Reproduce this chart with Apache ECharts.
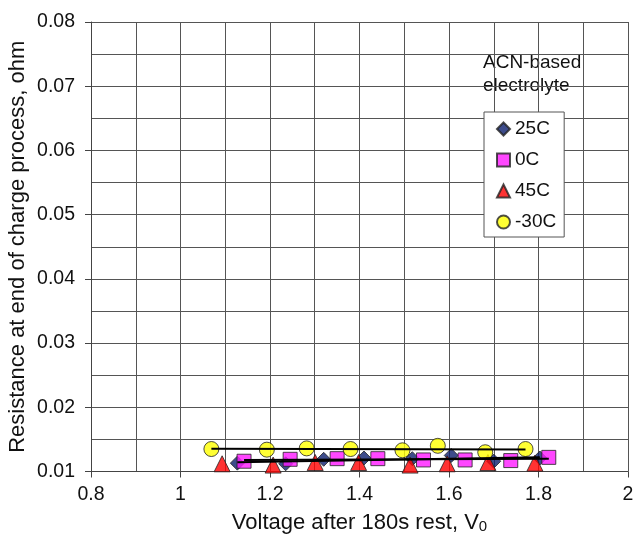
<!DOCTYPE html>
<html>
<head>
<meta charset="utf-8">
<script src="https://cdn.jsdelivr.net/npm/echarts@6/dist/echarts.min.js"></script>
<style>
  html, body { margin: 0; padding: 0; background: #fff; }
  #chart { width: 633px; height: 539px; }
</style>
</head>
<body>
<div id="chart"></div>
<script>
// Resistance at end of charge vs. rest voltage, ACN-based electrolyte
const seriesNames = ['25C', '0C', '45C', '-30C'];

const v25 = [1.127, 1.235, 1.320, 1.410, 1.518, 1.605, 1.700, 1.803];
const r25 = [0.0113, 0.0112, 0.0119, 0.0121, 0.0120, 0.0125, 0.0116, 0.0121];

const v0 = [1.142, 1.245, 1.350, 1.441, 1.543, 1.636, 1.738, 1.823];
const r0 = [0.0116, 0.0119, 0.0120, 0.0120, 0.0118, 0.0118, 0.0117, 0.0122];

const v45 = [1.093, 1.207, 1.301, 1.398, 1.513, 1.596, 1.687, 1.792];
const r45 = [0.0112, 0.0110, 0.0114, 0.0114, 0.0110, 0.0112, 0.0114, 0.0113];

const vm30 = [1.069, 1.193, 1.282, 1.380, 1.496, 1.575, 1.681, 1.771];
const rm30 = [0.0135, 0.0134, 0.0136, 0.0135, 0.0133, 0.0140, 0.0130, 0.0135];

const xTicks = { min: 0.8, max: 2, step: 0.2 };
const yTicks = { min: 0.01, max: 0.08, step: 0.01 };

const pairs = (xs, ys) => xs.map((x, i) => [x, ys[i]]);

// least-squares linear fit, drawn across the range of the data
function trend(xs, ys) {
  const n = xs.length;
  const mx = xs.reduce((a, b) => a + b, 0) / n;
  const my = ys.reduce((a, b) => a + b, 0) / n;
  let sxy = 0, sxx = 0;
  for (let i = 0; i < n; i++) {
    sxy += (xs[i] - mx) * (ys[i] - my);
    sxx += (xs[i] - mx) * (xs[i] - mx);
  }
  const b = sxy / sxx, a = my - b * mx;
  const x0 = Math.min(...xs), x1 = Math.max(...xs);
  return [[x0, a + b * x0], [x1, a + b * x1]];
}

const FONT = 'Liberation Sans, Arial, sans-serif';
const markerBorder = { borderColor: '#222', borderWidth: 1 };

function scatter(name, data, symbol, color, size) {
  return {
    name, type: 'scatter', data, symbol, symbolSize: size,
    itemStyle: Object.assign({ color }, markerBorder), z: 3
  };
}
function fitLine(xs, ys) {
  return {
    type: 'line', data: trend(xs, ys), symbol: 'none', silent: true,
    lineStyle: { color: '#000', width: 2 }, z: 5
  };
}

const chart = echarts.init(document.getElementById('chart'), null, { renderer: 'canvas' });
chart.setOption({
  animation: false,
  backgroundColor: '#fff',
  textStyle: { fontFamily: FONT },
  grid: { left: 91, top: 22, right: 5, bottom: 67.5, containLabel: false, outerBoundsMode: 'none' },
  xAxis: {
    type: 'value', min: xTicks.min, max: xTicks.max, interval: xTicks.step,
    name: 'Voltage after 180s rest, V{sub|0}',
    nameLocation: 'middle', nameGap: 39, nameMoveOverlap: false,
    nameTextStyle: {
      fontSize: 22, color: '#111', fontFamily: FONT,
      rich: { sub: { fontSize: 15, verticalAlign: 'bottom', padding: [9, 0, 0, 0], color: '#111' } }
    },
    axisLine: { show: true, lineStyle: { color: '#444', width: 1 } },
    axisTick: { show: true, length: 6, inside: false, lineStyle: { color: '#444' } },
    axisLabel: { fontSize: 19.5, color: '#111', margin: 13, fontFamily: FONT, hideOverlap: false },
    splitLine: { show: true, lineStyle: { color: '#555', width: 1 } },
    minorTick: { show: false, splitNumber: 2 },
    minorSplitLine: { show: true, lineStyle: { color: '#555', width: 1 } }
  },
  yAxis: {
    type: 'value', min: yTicks.min, max: yTicks.max, interval: yTicks.step,
    name: 'Resistance at end of charge process, ohm',
    nameLocation: 'middle', nameGap: 62, nameRotate: 90, nameMoveOverlap: false,
    nameTextStyle: { fontSize: 22, color: '#111', fontFamily: FONT },
    axisLine: { show: true, lineStyle: { color: '#444', width: 1 } },
    axisTick: { show: true, length: 6, inside: false, lineStyle: { color: '#444' } },
    axisLabel: { fontSize: 19.5, color: '#111', margin: 16, fontFamily: FONT,
      formatter: v => v.toFixed(2) },
    splitLine: { show: true, lineStyle: { color: '#555', width: 1 } },
    minorTick: { show: false, splitNumber: 2 },
    minorSplitLine: { show: true, lineStyle: { color: '#555', width: 1 } }
  },
  legend: {
    data: seriesNames,
    orient: 'vertical', left: 484, top: 112,
    backgroundColor: '#fff', borderColor: '#555', borderWidth: 1,
    padding: [7, 8, 5, 12],
    itemWidth: 13, itemHeight: 13, itemGap: 11,
    textStyle: { fontSize: 19, color: '#111', fontFamily: FONT, lineHeight: 20 }
  },
  graphic: [{
    type: 'group', left: 477, top: 48, z: 10,
    children: [
      { type: 'rect', shape: { x: 0, y: 0, width: 111, height: 55 }, style: { fill: '#fff' } },
      { type: 'text', x: 6, y: 3,
        style: { text: 'ACN-based\nelectrolyte', font: '19px ' + FONT, lineHeight: 23, fill: '#111' } }
    ]
  }],
  series: [
    scatter('25C', pairs(v25, r25), 'diamond', '#0d1f6e', 14),
    scatter('0C', pairs(v0, r0), 'rect', '#ff19ff', 14),
    scatter('45C', pairs(v45, r45), 'triangle', '#ff0000', 16),
    scatter('-30C', pairs(vm30, rm30), 'circle', '#ffff00', 15),
    fitLine(v25, r25),
    fitLine(v0, r0),
    fitLine(vm30, rm30)
  ]
});
</script>
</body>
</html>
